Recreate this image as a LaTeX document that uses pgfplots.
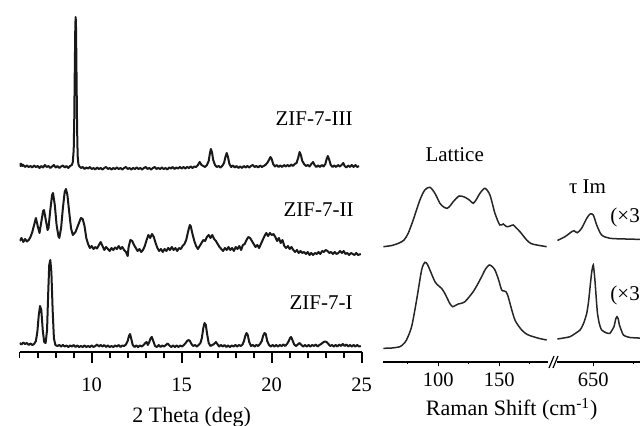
\documentclass[border=0pt]{standalone}
\usepackage{fontspec}
\setmainfont{Liberation Serif}
\usepackage{pgfplots}
\pgfplotsset{compat=1.18}
\pgfplotsset{
  panel/.style={
    scale only axis, anchor=south west,
    axis x line=bottom, axis y line=none,
    x axis line style={-},
    xtick align=outside,
    tick style={black},
    /pgf/number format/assume math mode=true,
    tick label style={font=\fontsize{10.25}{12}\selectfont},
  },
  xrd/.style={black!90, line width=1pt, line join=round},
  raman/.style={black!85, line width=0.75pt, smooth, tension=0.45},
}
\begin{document}
\begin{tikzpicture}[x=0.5pt,y=0.5pt]
\path[use as bounding box] (0,0) rectangle (640,426);

% ---- PXRD panel ----
\begin{axis}[panel,
  at={(9.85pt,37pt)}, width=171pt, height=176pt,
  xmin=6, xmax=25, ymin=-352, ymax=0,
  xtick={10,15,20,25},
  minor xtick={6,7,8,9,11,12,13,14,16,17,18,19,21,22,23,24},
  major tick length=5.5pt, minor tick length=3pt,
  x axis line style={line width=1pt},
  tick style={line width=0.8pt},
  xticklabel style={yshift=-4pt},
]
% ZIF-7-III
\addplot[xrd] table {
6.00 -163
6.05 -166
6.10 -164
6.15 -166
6.20 -165
6.30 -167
6.40 -165.5
6.50 -167
6.60 -166
6.70 -167.5
6.80 -165.5
6.90 -167
7.00 -166
7.10 -168
7.20 -166
7.30 -167.5
7.40 -165
7.50 -167
7.60 -166
7.70 -168
7.80 -166.5
7.90 -165
8.00 -167.5
8.10 -166
8.20 -168
8.30 -166.5
8.40 -165.5
8.50 -167.5
8.60 -166
8.70 -168
8.80 -166
8.90 -165
8.95 -162
9.00 -150
9.03 -120
9.06 -70
9.09 -25
9.11 -17
9.13 -28
9.16 -80
9.19 -130
9.22 -156
9.26 -164
9.30 -166
9.40 -168
9.50 -167
9.60 -169
9.70 -167.5
9.80 -168.5
9.90 -167
10.00 -169
10.10 -168
10.20 -169.5
10.30 -167.5
10.40 -169
10.50 -168
10.60 -169.5
10.70 -168
10.80 -167
10.90 -169
11.00 -168
11.10 -169.5
11.20 -168
11.30 -169
11.40 -167.5
11.50 -169
11.60 -168
11.70 -169.5
11.80 -168
11.90 -167
12.00 -169
12.10 -168
12.20 -169.5
12.30 -168
12.40 -169
12.50 -167.5
12.60 -169
12.70 -168
12.80 -169.5
12.90 -168
13.00 -167
13.10 -169
13.20 -168
13.30 -169.5
13.40 -168
13.50 -167
13.60 -169
13.70 -168
13.80 -169
13.90 -167.5
14.00 -169
14.10 -168
14.20 -169.5
14.30 -167.5
14.40 -168.5
14.50 -167
14.60 -169
14.70 -167.5
14.80 -168.5
14.90 -167
15.00 -168.5
15.10 -167
15.20 -168.5
15.30 -167
15.40 -168
15.50 -166.5
15.60 -168
15.70 -166.5
15.80 -167
15.90 -165
16.00 -162
16.10 -165
16.20 -166
16.30 -167
16.40 -165
16.50 -161
16.56 -154
16.62 -149
16.68 -152
16.75 -160
16.85 -165
16.95 -167
17.05 -166
17.15 -167.5
17.25 -166
17.35 -163
17.43 -157
17.50 -153
17.57 -157
17.65 -164
17.75 -167
17.85 -165.5
17.95 -167.5
18.05 -166
18.15 -168
18.25 -166.5
18.35 -168
18.45 -166
18.55 -167.5
18.65 -166
18.75 -167.5
18.85 -166
18.95 -165
19.05 -167
19.15 -166
19.25 -167.5
19.35 -165.5
19.45 -167
19.55 -166
19.65 -165
19.75 -163
19.85 -160
19.93 -157
20.00 -159
20.08 -164
20.18 -166.5
20.28 -165
20.38 -167
20.48 -165.5
20.58 -167
20.68 -165
20.78 -166.5
20.88 -165
20.98 -166.5
21.08 -164.5
21.18 -166
21.28 -164
21.38 -163
21.47 -158
21.55 -152
21.62 -155
21.70 -161
21.80 -164
21.90 -166
22.00 -165
22.10 -166.5
22.20 -164
22.30 -162
22.38 -165
22.48 -167
22.58 -165.5
22.68 -167
22.78 -165
22.88 -166.5
22.98 -164
23.05 -159
23.12 -156
23.20 -160
23.28 -165
23.38 -167
23.48 -165.5
23.58 -167
23.68 -165
23.78 -166.5
23.88 -165
23.98 -163
24.05 -166
24.15 -167.5
24.25 -165.5
24.35 -167
24.45 -165
24.55 -167
24.65 -165
24.75 -167
24.85 -166
};
% ZIF-7-II
\addplot[xrd] table {
6.00 -241
6.10 -238
6.20 -242
6.30 -239
6.40 -241.5
6.50 -240
6.60 -237
6.70 -232
6.80 -225
6.90 -218
7.00 -226
7.10 -233
7.20 -222
7.30 -211
7.35 -210
7.45 -220
7.55 -230
7.60 -228
7.70 -210
7.80 -195
7.85 -193
7.95 -205
8.05 -225
8.15 -236
8.20 -238
8.30 -228
8.40 -208
8.50 -192
8.57 -189
8.65 -195
8.75 -212
8.85 -228
8.95 -235
9.10 -232
9.25 -225
9.40 -218
9.50 -219
9.60 -226
9.70 -238
9.80 -244
9.90 -248
10.00 -246
10.10 -249
10.20 -247
10.30 -248.5
10.40 -245
10.50 -242
10.60 -246
10.70 -250
10.80 -247
10.90 -249
11.00 -251
11.10 -248
11.20 -250
11.30 -247.5
11.40 -249
11.50 -246
11.60 -249
11.70 -247
11.80 -250
11.90 -252
12.00 -256
12.05 -247
12.15 -240
12.25 -241
12.35 -245
12.45 -248
12.55 -251
12.65 -249
12.75 -252
12.85 -250
12.95 -246
13.05 -240
13.15 -235
13.25 -238
13.35 -234
13.45 -237
13.55 -243
13.65 -248
13.75 -251
13.85 -249
13.95 -252
14.05 -249
14.15 -251
14.25 -248
14.35 -250
14.45 -247
14.55 -250
14.65 -248
14.75 -251
14.85 -248
14.95 -249
15.05 -246
15.15 -244
15.25 -240
15.35 -232
15.45 -225
15.50 -226
15.60 -234
15.70 -241
15.80 -246
15.90 -249
16.00 -246
16.10 -243
16.20 -240
16.30 -241
16.40 -237
16.50 -235
16.60 -238
16.70 -235
16.80 -239
16.90 -241
17.00 -244
17.10 -247
17.20 -249
17.30 -251
17.40 -248
17.50 -250
17.60 -247
17.70 -250
17.80 -248
17.90 -251
18.00 -247
18.10 -249
18.20 -246
18.30 -250
18.40 -245
18.50 -244
18.60 -240
18.70 -237
18.80 -238
18.90 -241
19.00 -244
19.10 -247
19.20 -245
19.30 -248
19.40 -244
19.50 -240
19.60 -236
19.70 -233
19.80 -236
19.90 -233
20.00 -235
20.10 -234
20.20 -237
20.30 -241
20.40 -238
20.50 -243
20.60 -240
20.70 -246
20.80 -248
20.90 -246
21.00 -249
21.10 -247
21.20 -250
21.30 -252
21.40 -250
21.50 -253
21.60 -251
21.70 -253
21.80 -252
21.90 -254
22.00 -252
22.10 -255
22.20 -253
22.30 -255
22.40 -253
22.50 -254
22.60 -252
22.70 -254
22.80 -251
22.90 -252
23.00 -250
23.10 -251
23.20 -253
23.30 -252
23.40 -254
23.50 -252
23.60 -254
23.70 -253
23.80 -251
23.90 -253
24.00 -251
24.10 -254
24.20 -253
24.30 -255
24.40 -253
24.50 -254
24.60 -255
24.70 -253
24.80 -255
24.95 -254
};
% ZIF-7-I
\addplot[xrd] table {
6.00 -343
6.10 -344.5
6.20 -342.5
6.30 -344
6.40 -343
6.50 -345
6.60 -343.5
6.70 -345
6.80 -344
6.90 -341
6.98 -332
7.06 -315
7.13 -306
7.20 -310
7.28 -330
7.36 -342
7.44 -343
7.52 -330
7.58 -295
7.64 -265
7.70 -260
7.76 -272
7.83 -310
7.90 -338
7.98 -345
8.10 -346
8.20 -345
8.30 -346.5
8.40 -345
8.50 -346.5
8.60 -345.5
8.70 -347
8.80 -345.5
8.90 -346.5
9.00 -345
9.10 -347
9.20 -345.5
9.30 -347
9.40 -346
9.50 -347
9.60 -345.5
9.70 -347
9.80 -346
9.90 -347
10.00 -345.5
10.10 -347
10.20 -346
10.30 -344.5
10.40 -346.5
10.50 -345
10.60 -346.5
10.70 -345
10.80 -347
10.90 -345.5
11.00 -347
11.10 -346
11.20 -347
11.30 -345.5
11.40 -346.5
11.50 -345
11.60 -347
11.70 -345.5
11.80 -346
11.90 -344.5
12.00 -341
12.07 -336
12.13 -334
12.20 -339
12.28 -345
12.38 -347
12.48 -345.5
12.58 -347
12.68 -345.5
12.78 -346.5
12.88 -345
12.98 -343
13.05 -342
13.12 -345
13.20 -342
13.28 -338
13.34 -337
13.42 -341
13.52 -346
13.62 -347
13.72 -345
13.82 -347
13.92 -345.5
14.02 -346.5
14.12 -345
14.22 -343.5
14.32 -345.5
14.42 -347
14.52 -345.5
14.62 -347
14.72 -345.5
14.82 -347
14.92 -345.5
15.02 -346.5
15.12 -345
15.22 -343
15.30 -341
15.38 -340
15.46 -341
15.54 -344
15.64 -346
15.74 -345
15.84 -346.5
15.94 -345
16.04 -343
16.12 -338
16.20 -328
16.27 -323
16.34 -325
16.42 -335
16.50 -343
16.60 -346
16.70 -345
16.80 -344
16.90 -342
16.98 -344
17.08 -346.5
17.18 -345
17.28 -346.5
17.38 -345
17.48 -347
17.58 -345.5
17.68 -347
17.78 -345.5
17.88 -346.5
17.98 -345
18.08 -346.5
18.18 -345
18.28 -346
18.38 -344.5
18.46 -341
18.53 -336
18.60 -333
18.67 -335
18.75 -342
18.85 -346
18.95 -345
19.05 -346.5
19.15 -345
19.25 -346
19.35 -344
19.45 -341
19.52 -336
19.60 -333
19.67 -334
19.75 -341
19.85 -345
19.95 -346.5
20.05 -345
20.15 -346.5
20.25 -345
20.35 -346.5
20.45 -345
20.55 -346
20.65 -344.5
20.75 -346
20.85 -344
20.95 -341
21.02 -338
21.08 -337
21.15 -340
21.25 -344.5
21.35 -346
21.45 -344.5
21.55 -343
21.65 -345
21.75 -346.5
21.85 -345
21.95 -346.5
22.05 -345
22.15 -346.5
22.25 -345
22.35 -346
22.45 -344.5
22.55 -346.5
22.65 -345
22.75 -344
22.85 -342.5
22.95 -341.5
23.05 -342
23.15 -344
23.25 -346
23.35 -345
23.45 -346.5
23.55 -345
23.65 -346.5
23.75 -344.5
23.85 -346
23.95 -344
24.05 -346
24.15 -344.5
24.25 -346.5
24.35 -345
24.45 -346.5
24.55 -345
24.65 -346.5
24.75 -345
24.85 -346.5
24.95 -346
};
\end{axis}

% ---- Raman, lattice region ----
\begin{axis}[panel,
  at={(191.65pt,32pt)}, width=82.35pt, height=181pt,
  xmin=55, xmax=190, ymin=-362, ymax=0,
  xtick={100,150}, minor xtick={75,125,175},
  major tick length=2pt, minor tick length=1.2pt,
  x axis line style={line width=0.65pt},
  tick style={line width=0.6pt},
]
\addplot[raman] coordinates {
(55,-246.7) (62,-245.5) (68,-243) (72,-240) (75.4,-233.3) (79.5,-220)
(85,-200) (89,-190) (93.2,-187.3) (97.3,-193.3) (101.4,-203.3) (104.5,-207)
(107.4,-208.3) (110,-205.5) (112.3,-201.7) (117.2,-196) (121.9,-197.3)
(125.5,-200) (128.7,-203.3) (131.5,-199) (134.2,-193.3) (138.3,-188.3)
(142.4,-195) (146.5,-213.3) (150.5,-225) (153.3,-224) (156,-226.7)
(159,-226) (161.5,-225) (164,-228) (167,-231.7) (172.5,-240) (176,-243.5)
(180.7,-245) (188.9,-246.7)
};
\addplot[raman] coordinates {
(55,-348.3) (62,-348) (68.6,-346.7) (71.5,-344) (74,-340) (78.2,-326.7)
(82.3,-300) (86.4,-270) (89.1,-262.3) (91.2,-264.5) (93.2,-270) (97.3,-281.7)
(100,-285.5) (102.7,-288.3) (105,-292.5) (107.4,-298.3) (109.5,-303.5)
(111.8,-306.7) (114,-305.5) (116.4,-304) (119,-303.3) (121.9,-301.7)
(125.3,-297) (128.7,-291.7) (132.2,-284.5) (135.6,-276.7) (138.8,-269)
(141.8,-265) (144.2,-266.5) (146.5,-270) (149.3,-279) (152,-290) (154,-291)
(155.5,-291.7) (157.2,-296) (158.8,-303.3) (162.9,-320) (168.4,-330)
(173,-334.5) (177.9,-336.7) (183,-338.5) (188.9,-340)
};
\end{axis}

% ---- Raman, tau Im region ----
\begin{axis}[panel,
  at={(278.65pt,32pt)}, width=50pt, height=181pt,
  xmin=627.5, xmax=690, ymin=-362, ymax=0,
  xtick={650}, minor xtick={675},
  major tick length=2pt, minor tick length=1.2pt,
  x axis line style={line width=0.65pt},
  tick style={line width=0.6pt},
]
\addplot[raman] coordinates {
(627.5,-240.5) (632.3,-236.7) (636.5,-231.7) (637.9,-230.7) (640,-232.7)
(642.7,-228.3) (645.9,-218.3) (648,-214) (650,-215) (652.1,-225)
(655.2,-235) (660.4,-238.3) (670,-239) (682,-239.5)
};
\addplot[raman, tension=0.3] coordinates {
(627.5,-339) (635.4,-336.7) (641.7,-330) (644,-323) (645.9,-313.3)
(647,-302) (648,-286.7) (649,-272) (650,-265) (651,-280) (652.5,-312)
(653.8,-324) (655.2,-330) (658,-332.8) (660.4,-333.3) (662.9,-326.7)
(664,-319) (664.8,-316.7) (665.6,-319) (666.3,-325) (668.8,-335)
(673,-337.5) (682,-338.3)
};
\end{axis}

% axis break
\draw[line width=0.6pt] (549,58) -- (554,70);
\draw[line width=0.6pt] (553,58) -- (558,70);

% labels
\begin{scope}[every node/.style={inner sep=0pt, font=\fontsize{10.5}{12}\selectfont}]
\node[anchor=base east] at (353,300) {ZIF-7-III};
\node[anchor=base east] at (354,209) {ZIF-7-II};
\node[anchor=base east] at (353,116) {ZIF-7-I};
\node[anchor=base] at (454.7,264) {Lattice};
\node[anchor=base] at (587.5,232.7) {τ Im};
\node[anchor=base west] at (610,203.2) {(×3)};
\node[anchor=base west] at (610,125) {(×3)};
\node[anchor=base, font=\fontsize{11}{13}\selectfont] at (191.7,3) {2 Theta (deg)};
\node[anchor=base, font=\fontsize{11}{13}\selectfont] at (511.7,10) {Raman Shift (cm\textsuperscript{-1})};
\end{scope}
\end{tikzpicture}
\end{document}
